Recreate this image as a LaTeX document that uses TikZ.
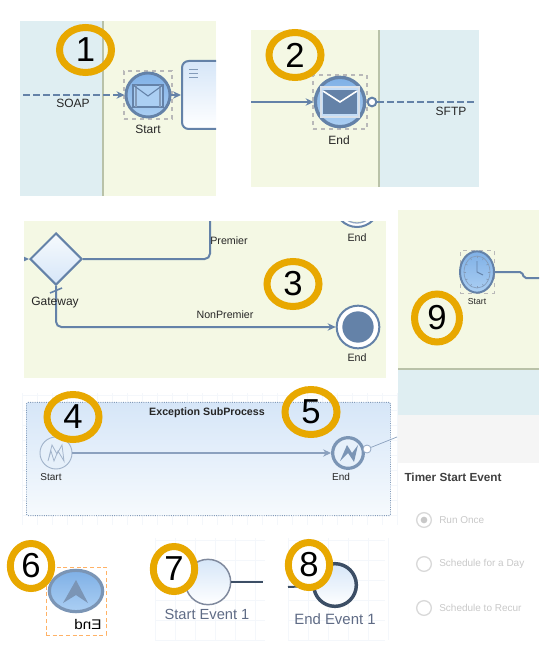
\documentclass[tikz,border=0pt]{standalone}
\usepackage{fontspec}
\setmainfont{Liberation Sans}
\usepackage{tikz}
\usetikzlibrary{shapes.geometric,arrows.meta}

\definecolor{paneblue}{HTML}{DFEEF2}
\definecolor{panegreen}{HTML}{F4F8E4}
\definecolor{panerule}{HTML}{B9C2A8}
\definecolor{flowblue}{HTML}{6482A8}
\definecolor{ringgold}{HTML}{E8A800}
\definecolor{eventtop}{HTML}{7FB0E6}
\definecolor{eventlow}{HTML}{ABCFF3}
\definecolor{gridpale}{HTML}{F4F7FB}
\definecolor{slatetext}{HTML}{5F6B85}
\definecolor{radiogrey}{HTML}{C8C8C8}
\definecolor{softtop}{HTML}{D6E6F8}
\definecolor{softlow}{HTML}{F6FAFD}
\definecolor{softfill}{HTML}{E6F0FA}

\tikzset{
	ringmark/.style={ellipse, draw=ringgold, line width=5.25pt, inner sep=0pt, minimum width=39pt, minimum height=33.75pt, text=black, font=\fontsize{26}{26}\selectfont},
	ringsmall/.style={ringmark, minimum width=31pt, fill=white},
	eventblue/.style={circle, draw=flowblue, line width=2.2pt, inner sep=0pt, top color=eventtop, bottom color=eventlow},
	selectbox/.style={draw=gray!55, dashed, line width=1pt, inner sep=0pt},
	flow/.style={draw=flowblue, line width=1.5pt, ->, >={Stealth[length=6pt,width=5.5pt]}},
	msgflow/.style={flow, dash pattern=on 5pt off 2.5pt},
	lbl/.style={inner sep=0pt, font=\fontsize{9}{9}\selectfont, text=black!85},
	lblsmall/.style={lbl, font=\fontsize{7.5}{8}\selectfont},
	lblslate/.style={lbl, text=slatetext, font=\fontsize{11}{11}\selectfont},
	radio/.style={circle, draw=radiogrey!70, line width=1pt, fill=white, minimum size=11pt, inner sep=0pt},
	radiolbl/.style={lbl, anchor=west, text=radiogrey, font=\fontsize{7.5}{8}\selectfont},
	gridline/.style={draw=gridpale, line width=0.5pt}
}

\begin{document}
\begin{tikzpicture}[x=0.75pt,y=-0.75pt]
	\useasboundingbox (0,0) rectangle (558,659);

	% panels
	\fill[paneblue] (20,21) rectangle (103,196);
	\fill[panegreen] (103,21) rectangle (216,196);
	\fill[panerule] (102,21) rectangle (104,196);

	\fill[panegreen] (251,30) rectangle (379,187);
	\fill[paneblue] (379,30) rectangle (479,187);
	\fill[panerule] (378,30) rectangle (380,187);

	\fill[panegreen] (24,221) rectangle (386,378);

	\fill[panegreen] (398,210) rectangle (539,368);
	\fill[panerule] (398,368) rectangle (539,370);
	\fill[paneblue] (398,370) rectangle (539,415);
	\fill[black!4] (398,415) rectangle (539,463);

	% faint grids
	\foreach \gx in {22,37,...,397} \draw[gridline] (\gx,393) -- (\gx,525);
	\foreach \gy in {395,410,...,525} \draw[gridline] (22,\gy) -- (397,\gy);
	\foreach \gx in {155,175,...,265} \draw[gridline] (\gx,538) -- (\gx,640);
	\foreach \gy in {540,560,...,640} \draw[gridline] (155,\gy) -- (265,\gy);
	\foreach \gx in {288,308,...,388} \draw[gridline] (\gx,538) -- (\gx,640);
	\foreach \gy in {540,560,...,640} \draw[gridline] (288,\gy) -- (385,\gy);

	% 1
	\begin{scope}
		\clip (20,21) rectangle (216,196);
		\node (taskone) at (232,95) [draw=flowblue, line width=1.5pt, rounded corners=5pt, top color=softtop, bottom color=white, minimum width=75pt, minimum height=51pt] {};
	\end{scope}
	\draw[flowblue!80, line width=0.5pt] (189,69) -- (198,69) (189,73) -- (198,73) (189,77) -- (198,77);
	\node (boxone) at (148,95) [selectbox, minimum size=36pt] {};
	\node (msgstart) at (148,95) [eventblue, minimum size=33pt] {};
	\draw[flowblue, line width=1pt, fill=eventlow] (133,85) rectangle (163,107);
	\draw[flowblue!80, line width=0.8pt] (136,85) -- (136,107) (160,85) -- (160,107);
	\draw[flowblue, line width=0.8pt] (133,85) -- (148,96) -- (163,85);
	\coordinate (soapin) at (23,95);
	\draw[msgflow] (soapin) -- (msgstart);
	\draw[flow] (msgstart) -- (taskone);
	\node (soaplbl) at (73,103) [lbl] {SOAP};
	\node (startone) at (148,129) [lbl] {Start};

	% 2
	\node (boxtwo) at (340,102) [selectbox, minimum size=40.5pt] {};
	\node (msgend) at (340,102) [eventblue, minimum size=37pt, line width=2.5pt] {};
	\draw[white!75!flowblue, line width=0.8pt, fill=eventlow!70!white] (321,87) rectangle (359,117);
	\fill[flowblue] (323,90) rectangle (357,114);
	\draw[white, line width=1.2pt] (323,91) -- (340,102) -- (357,91);
	\node (thrown) at (372,102) [circle, draw=flowblue, line width=1.5pt, fill=white, minimum size=6.5pt, inner sep=0pt] {};
	\coordinate (endin) at (251,102);
	\coordinate (sftpout) at (477,102);
	\draw[flow] (endin) -- (msgend);
	\draw[flow, -, dash pattern=on 5pt off 2.5pt] (thrown) -- (sftpout);
	\node (sftplbl) at (451,111) [lbl] {SFTP};
	\node (endtwo) at (339,140) [lbl] {End};

	% 3
	\node (gate) at (56,259) [diamond, aspect=1, draw=flowblue, line width=1.5pt, bottom color=softtop, top color=softlow, minimum size=39pt, inner sep=0pt] {};
	\coordinate (gatein) at (24,259);
	\begin{scope}
		\clip (24,221) rectangle (386,378);
		\node (endtop) at (357,205) [circle, draw=flowblue, line width=1.5pt, fill=white, minimum size=33pt, inner sep=0pt] {};
		\node (endtopin) at (357,205) [circle, draw=flowblue!70, line width=1pt, fill=panegreen, minimum size=27pt, inner sep=0pt] {};
		\draw[flow] (gatein) -- (gate.west);
	\end{scope}
	\node (endfull) at (358,327) [circle, draw=flowblue, line width=1.5pt, fill=white, minimum size=32pt, inner sep=0pt] {};
	\node (enddot) at (358,327) [circle, fill=flowblue, minimum size=23.5pt, inner sep=0pt] {};
	\coordinate (premierup) at (210,221);
	\coordinate (tickleft) at (50,293);
	\coordinate (tickright) at (62,288);
	\draw[flow, -, rounded corners=4pt] (gate.east) -| (premierup);
	\draw[flow, rounded corners=4pt] (gate.south) |- (endfull);
	\draw[flowblue, line width=1.2pt] (tickleft) -- (tickright);
	\node (premierlbl) at (229,241) [lbl, font=\fontsize{8}{8}\selectfont] {Premier};
	\node (endthreetop) at (357,238) [lbl, font=\fontsize{8}{8}\selectfont] {End};
	\node (gatelbl) at (55,303) [lbl] {Gateway};
	\node (nonlbl) at (225,315) [lbl, font=\fontsize{8}{8}\selectfont] {NonPremier};
	\node (endthree) at (357,358) [lbl, font=\fontsize{8}{8}\selectfont] {End};

	% 4 and 5
	\node (subproc) at (208.5,459) [draw=flowblue!80, densely dotted, line width=0.7pt, top color=softtop, bottom color=softlow, minimum width=273pt, minimum height=85pt, rounded corners=1pt] {};
	\node (sublbl) at (207,413) [lbl, font=\bfseries\fontsize{8}{8}\selectfont] {Exception SubProcess};
	\node (errstart) at (56,453) [circle, draw=flowblue!60, line width=0.7pt, fill=softfill, minimum size=24pt, inner sep=0pt] {};
	\node (errend) at (348,453) [circle, draw=flowblue!85, line width=2.4pt, fill=softfill, minimum size=23pt, inner sep=0pt] {};
	\draw[flowblue!60, line width=0.6pt, fill=softfill] (48,461) -- (52,445) -- (57,454) -- (62,445) -- (64,461) -- (58,451) -- (54,461) -- (51,451) -- cycle;
	\fill[flowblue!85] (340,461) -- (347,445) -- (352,453) -- (358,445) -- (354,462) -- (348,453) -- cycle;
	\node (errthrown) at (367,449) [circle, draw=flowblue!70, line width=0.6pt, fill=white, minimum size=6pt, inner sep=0pt] {};
	\coordinate (errout) at (397,437);
	\draw[flow, draw=flowblue!75, line width=0.8pt] (errstart) -- (errend);
	\draw[flowblue!75, line width=0.5pt] (errthrown) -- (errout);
	\node (startfour) at (51,477) [lblsmall] {Start};
	\node (endfive) at (341,477) [lblsmall] {End};

	% 9
	\node (boxnine) at (477,272) [selectbox, minimum width=25.5pt, minimum height=32pt, line width=0.7pt] {};
	\node (clock) at (477,272) [ellipse, draw=flowblue, line width=1.5pt, top color=eventtop, bottom color=eventlow, minimum width=25.5pt, minimum height=31pt, inner sep=0pt] {};
	\draw[flowblue!80, line width=0.5pt] (477,272) ellipse (13 and 16);
	\foreach \ang in {0,30,...,330}
		\draw[flowblue!80, line width=0.5pt] ({477+11*cos(\ang)},{272+14*sin(\ang)}) -- ({477+13*cos(\ang)},{272+16*sin(\ang)});
	\draw[flowblue, line width=0.7pt] (477,261) -- (477,272) -- (483,275);
	\coordinate (timerbend) at (522,272);
	\coordinate (timerstep) at (524,278);
	\coordinate (timerout) at (539,278);
	\draw[flow, -, rounded corners=1.5pt] (clock) -- (timerbend) -- (timerstep) -- (timerout);
	\node (startnine) at (477,302) [lblsmall, font=\fontsize{6.5}{7}\selectfont] {Start};
	\node (timerlbl) at (453,477) [lbl, font=\bfseries\fontsize{8.8}{9}\selectfont, text=black!75] {Timer Start Event};
	\node (radioone) at (424,520) [radio] {};
	\node (radiodot) at (424,520) [circle, fill=radiogrey, minimum size=5pt, inner sep=0pt] {};
	\node (radiotwo) at (424,564) [radio] {};
	\node (radiothree) at (424,608) [radio] {};
	\node (runlbl) at (439,520) [radiolbl] {Run Once};
	\node (daylbl) at (439,564) [radiolbl] {Schedule for a Day};
	\node (recurlbl) at (439,608) [radiolbl] {Schedule to Recur};

	% 6
	\node (boxsix) at (76,601) [draw=orange!60, densely dashed, line width=0.7pt, minimum width=45pt, minimum height=51pt, inner sep=0pt] {};
	\node (bpmnup) at (76,591) [ellipse, draw=flowblue!85, line width=2.4pt, top color=eventtop, bottom color=eventlow, minimum width=40pt, minimum height=31pt, inner sep=0pt] {};
	\fill[flowblue!85] (76,580) -- (63,603) -- (76,595) -- (88,603) -- cycle;
	\node (endsix) at (88,624) [lbl, text=black, xscale=-1.1, font=\fontsize{10.5}{11}\selectfont] {End};

	% 7 and 8
	\node (startev) at (208,582) [circle, draw=slatetext!80, line width=1.1pt, top color=softtop, bottom color=white, minimum size=34pt, inner sep=0pt] {};
	\coordinate (startevout) at (263,582);
	\draw[draw=flowblue!60!black, line width=1.6pt] (startev) -- (startevout);
	\node (startevlbl) at (207,614) [lblslate] {Start Event 1};
	\node (endev) at (335,585) [circle, draw=flowblue!60!black, line width=2.6pt, top color=softtop, bottom color=white, minimum size=32pt, inner sep=0pt] {};
	\coordinate (endevin) at (288,587);
	\draw[flow, draw=flowblue!60!black] (endevin) -- (endev);
	\node (endevlbl) at (335,619) [lblslate, font=\fontsize{11.2}{11}\selectfont] {End Event 1};

	% numbered rings
	\node (ringone) at (85.5,50) [ringmark] {1};
	\node (ringtwo) at (295,55) [ringmark] {2};
	\node (ringthree) at (293,284) [ringmark] {3};
	\node (ringfour) at (73,417) [ringmark] {4};
	\node (ringfive) at (311,412) [ringmark] {5};
	\node (ringsix) at (31,566) [ringsmall] {6};
	\node (ringseven) at (174,569) [ringsmall] {7};
	\node (ringeight) at (309,565) [ringsmall] {8};
	\node (ringnine) at (437,318) [ringmark, minimum width=33.75pt, minimum height=36pt] {9};
\end{tikzpicture}
\end{document}
